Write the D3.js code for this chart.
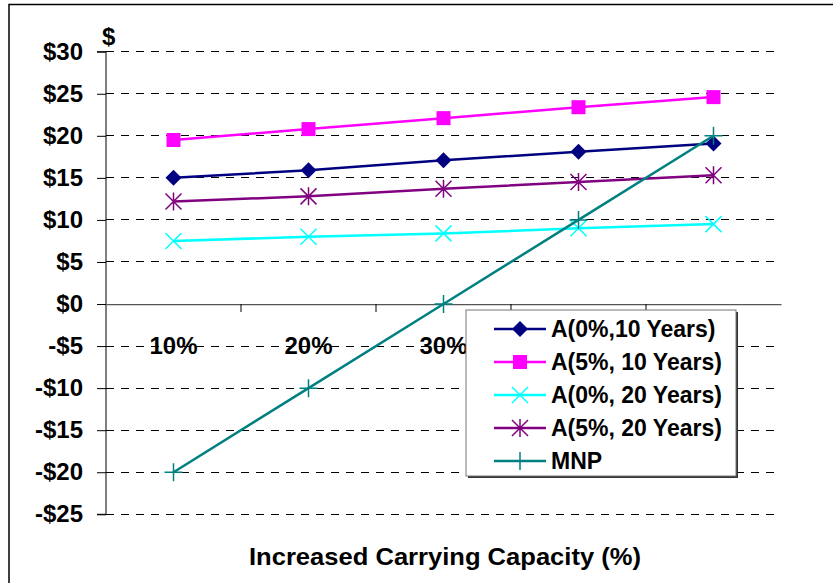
<!DOCTYPE html>
<html><head><meta charset="utf-8">
<script src="https://cdn.jsdelivr.net/npm/d3@7"></script>
<style>body{margin:0;background:#fff;} svg{display:block;font-family:"Liberation Sans",Arial,sans-serif;font-weight:bold;}</style>
</head><body>
<svg id="c" width="833" height="583"></svg>
<script>
const categories = ["10%", "20%", "30%", "40%", "50%"];
const seriesNames = ["A(0%,10 Years)", "A(5%, 10 Years)", "A(0%, 20 Years)", "A(5%, 20 Years)", "MNP"];
const a0_10 = [15.0, 15.9, 17.1, 18.1, 19.1];
const a5_10 = [19.5, 20.8, 22.1, 23.4, 24.6];
const a0_20 = [7.5, 8.0, 8.4, 9.0, 9.5];
const a5_20 = [12.2, 12.8, 13.7, 14.5, 15.3];
const mnp = [-20, -10, 0, 10, 20];
const yTicks = [30, 25, 20, 15, 10, 5, 0, -5, -10, -15, -20, -25];
const colors = ["#000080", "#FF00FF", "#00FFFF", "#800080", "#008080"];
const markers = ["diamond", "square", "x", "star", "plus"];
const seriesValues = [a0_10, a5_10, a0_20, a5_20, mnp];

const svg = d3.select("#c");
const L = 106, R = 781, T = 51.7, B = 514.3;
const x = d3.scaleBand().domain(categories).range([L, R]);
const y = d3.scaleLinear().domain([-25, 30]).range([B, T]);
const FONT = "Liberation Sans, Arial, sans-serif";

// outer border
svg.append("rect").attr("x", 9).attr("y", 4.5).attr("width", 900).attr("height", 700)
  .attr("fill", "none").attr("stroke", "#000").attr("stroke-width", 1.5);

// gridlines
svg.append("g").selectAll("line").data(yTicks.filter(d => d !== 0)).join("line")
  .attr("x1", L).attr("x2", R).attr("y1", d => y(d)).attr("y2", d => y(d))
  .attr("stroke", "#000").attr("stroke-width", 1).attr("stroke-dasharray", "8,7")
  .attr("shape-rendering", "crispEdges");

// y axis
const yAxis = d3.axisLeft(y).tickValues(yTicks).tickSize(9).tickPadding(14)
  .tickFormat(d => (d < 0 ? "-$" + Math.abs(d) : "$" + d));
const gy = svg.append("g").attr("transform", `translate(${L},0)`).call(yAxis);
gy.select(".domain").attr("stroke", "#000").attr("d", `M-9,${T}H0V${B}H-9`);
gy.selectAll(".tick line").attr("stroke", "#000");
gy.selectAll("text").attr("font-size", 24).attr("font-weight", "bold").attr("fill", "#000")
  .attr("font-family", FONT);

// x axis at zero
const xAxis = d3.axisBottom(x).tickSize(0).tickFormat(d => d);
const gx = svg.append("g").attr("transform", `translate(0,${y(0)})`).call(xAxis);
gx.select(".domain").attr("stroke", "#555").attr("stroke-width", 1.2);
gx.selectAll(".tick text").attr("y", 50).attr("dy", 0).attr("font-size", 24).attr("font-weight", "bold")
  .attr("fill", "#000").attr("font-family", FONT);
// category boundary ticks
gx.append("g").selectAll("line").data(categories.slice(1)).join("line")
  .attr("x1", d => x(d)).attr("x2", d => x(d)).attr("y1", 0).attr("y2", 8)
  .attr("stroke", "#000");

// lines
const line = d3.line().x((d, i) => x(categories[i]) + x.bandwidth() / 2).y(d => y(d));
function drawMarker(g, type, color) {
  if (type === "diamond") g.append("path").attr("d", "M0,-8L8,0L0,8L-8,0Z").attr("fill", color);
  else if (type === "square") g.append("rect").attr("x", -7).attr("y", -7).attr("width", 14).attr("height", 14).attr("fill", color);
  else if (type === "x") g.append("path").attr("d", "M-8,-8L8,8M-8,8L8,-8").attr("stroke", color).attr("stroke-width", 1.5);
  else if (type === "star") g.append("path").attr("d", "M-8,-8L8,8M-8,8L8,-8M0,-9V9").attr("stroke", color).attr("stroke-width", 1.5);
  else if (type === "plus") g.append("path").attr("d", "M-9,0H9M0,-9V9").attr("stroke", color).attr("stroke-width", 1.5);
}
seriesValues.forEach((vals, si) => {
  const g = svg.append("g");
  g.append("path").attr("d", line(vals)).attr("fill", "none").attr("stroke", colors[si]).attr("stroke-width", 2.5);
  vals.forEach((v, i) => {
    const m = g.append("g").attr("transform", `translate(${x(categories[i]) + x.bandwidth() / 2},${y(v)})`);
    drawMarker(m, markers[si], colors[si]);
  });
});

// "$" label
svg.append("text").attr("x", 102).attr("y", 45).attr("font-size", 24).text("$");

// axis title
svg.append("text").attr("x", 445).attr("y", 565).attr("text-anchor", "middle")
  .attr("font-size", 24).attr("textLength", 392).attr("lengthAdjust", "spacingAndGlyphs")
  .text("Increased Carrying Capacity (%)");

// legend
const lg = svg.append("g").attr("transform", "translate(466,310)");
lg.append("rect").attr("x", 2).attr("y", 2).attr("width", 270).attr("height", 166).attr("fill", "#333");
lg.append("rect").attr("x", 0).attr("y", 0).attr("width", 270).attr("height", 166).attr("fill", "#fff")
  .attr("stroke", "#777").attr("stroke-width", 1);
seriesNames.forEach((name, i) => {
  const row = lg.append("g").attr("transform", `translate(0,${19 + i * 33})`);
  row.append("line").attr("x1", 28).attr("x2", 80).attr("stroke", colors[i]).attr("stroke-width", 2.5);
  drawMarker(row.append("g").attr("transform", "translate(54,0)"), markers[i], colors[i]);
  row.append("text").attr("x", 85).attr("y", 8).attr("font-size", 23).text(name);
});
</script>
</body></html>
